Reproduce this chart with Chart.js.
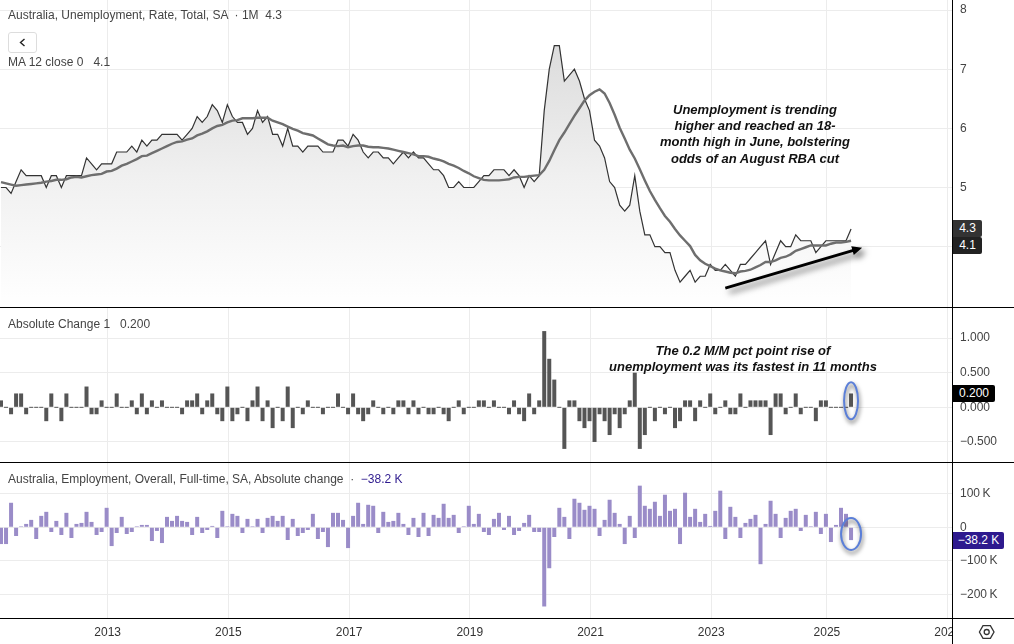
<!DOCTYPE html>
<html>
<head>
<meta charset="utf-8">
<script src="https://cdn.jsdelivr.net/npm/chart.js@4"></script>
<style>
    html, body { margin: 0; padding: 0; background: #fff; overflow: hidden; }
    #wrap { position: relative; width: 1014px; height: 644px; font-family: "Liberation Sans", Arial, sans-serif; color: #444; font-size: 12px; }
    canvas { position: absolute; left: 0; display: block; }
    .txt { position: absolute; white-space: pre; line-height: 14px; }
    .note { position: absolute; text-align: center; font-weight: bold; font-style: italic; color: #111; white-space: pre; font-size: 13px; }
    .badge { position: absolute; left: 953px; color: #fff; text-align: center; line-height: 17px; height: 17px; border-radius: 0 2px 2px 0; }
    .rule { position: absolute; background: #000; }
    #backBtn { position: absolute; left: 8px; top: 32px; width: 27px; height: 19px; border: 1px solid #ddd; border-radius: 3px; }
    #corner { position: absolute; left: 953px; top: 619px; width: 61px; height: 25px; background: #fff; }
</style>
</head>
<body>
<div id="wrap">
    <canvas id="chartRate" width="1014" height="307" style="top:0"></canvas>
    <canvas id="chartChange" width="1014" height="154" style="top:308px"></canvas>
    <canvas id="chartEmp" width="1014" height="181" style="top:463px"></canvas>

    <div id="corner">
        <svg width="61" height="25" style="position:absolute;left:0;top:0">
            <path d="M26.4 13 L30 6.7 L37.4 6.7 L41 13 L37.4 19.3 L30 19.3 Z" fill="none" stroke="#333" stroke-width="1.3"/>
            <circle cx="33.7" cy="13" r="2.5" fill="none" stroke="#333" stroke-width="1.3"/>
        </svg>
    </div>
    <div class="rule" style="left:952px;top:0;width:1px;height:644px"></div>
    <div class="rule" style="left:0;top:307px;width:1014px;height:1px"></div>
    <div class="rule" style="left:0;top:462px;width:1014px;height:1px"></div>
    <div class="rule" style="left:0;top:618px;width:1014px;height:1px"></div>

    <div class="txt" style="left:8px;top:8px">Australia, Unemployment, Rate, Total, SA  · 1M  4.3</div>
    <div id="backBtn">
        <svg width="27" height="19"><path d="M15.5 6 L11.5 9.5 L15.5 13" fill="none" stroke="#222" stroke-width="1.4"/></svg>
    </div>
    <div class="txt" style="left:8px;top:55px">MA 12 close 0   4.1</div>
    <div class="txt" style="left:8px;top:317px">Absolute Change 1   0.200</div>
    <div class="txt" style="left:8px;top:472px">Australia, Employment, Overall, Full-time, SA, Absolute change  ·  <span style="color:#2e1a8e">−38.2 K</span></div>

    <div class="note" style="left:625px;top:102px;width:260px;line-height:16.2px">Unemployment is trending
higher and reached an 18-
month high in June, bolstering
odds of an August RBA cut</div>
    <div class="note" style="left:583px;top:343px;width:320px;line-height:16px">The 0.2 M/M pct point rise of
unemployment was its fastest in 11 months</div>

    <div class="badge" style="top:220px;width:29px;background:#333">4.3</div>
    <div class="badge" style="top:237px;width:29px;background:#222">4.1</div>
    <div class="badge" style="top:385px;width:42px;background:#000">0.200</div>
    <div class="badge" style="top:532px;width:51px;background:#2e1a8e">−38.2 K</div>
</div>

<script>
const months = [
    '2011-04','2011-05','2011-06','2011-07','2011-08','2011-09','2011-10','2011-11','2011-12',
    '2012-01','2012-02','2012-03','2012-04','2012-05','2012-06','2012-07','2012-08','2012-09','2012-10','2012-11','2012-12',
    '2013-01','2013-02','2013-03','2013-04','2013-05','2013-06','2013-07','2013-08','2013-09','2013-10','2013-11','2013-12',
    '2014-01','2014-02','2014-03','2014-04','2014-05','2014-06','2014-07','2014-08','2014-09','2014-10','2014-11','2014-12',
    '2015-01','2015-02','2015-03','2015-04','2015-05','2015-06','2015-07','2015-08','2015-09','2015-10','2015-11','2015-12',
    '2016-01','2016-02','2016-03','2016-04','2016-05','2016-06','2016-07','2016-08','2016-09','2016-10','2016-11','2016-12',
    '2017-01','2017-02','2017-03','2017-04','2017-05','2017-06','2017-07','2017-08','2017-09','2017-10','2017-11','2017-12',
    '2018-01','2018-02','2018-03','2018-04','2018-05','2018-06','2018-07','2018-08','2018-09','2018-10','2018-11','2018-12',
    '2019-01','2019-02','2019-03','2019-04','2019-05','2019-06','2019-07','2019-08','2019-09','2019-10','2019-11','2019-12',
    '2020-01','2020-02','2020-03','2020-04','2020-05','2020-06','2020-07','2020-08','2020-09','2020-10','2020-11','2020-12',
    '2021-01','2021-02','2021-03','2021-04','2021-05','2021-06','2021-07','2021-08','2021-09','2021-10','2021-11','2021-12',
    '2022-01','2022-02','2022-03','2022-04','2022-05','2022-06','2022-07','2022-08','2022-09','2022-10','2022-11','2022-12',
    '2023-01','2023-02','2023-03','2023-04','2023-05','2023-06','2023-07','2023-08','2023-09','2023-10','2023-12',
    '2024-01','2024-02','2024-03','2024-04','2024-05','2024-06','2024-07','2024-08','2024-09','2024-10','2024-11','2024-12',
    '2025-01','2025-02','2025-03','2025-04','2025-05','2025-06'
];

const rate = [
    5.0,5.0,4.9,5.1,5.3,5.2,5.2,5.2,5.2,5.0,5.2,5.2,5.0,5.2,5.2,5.2,5.2,5.5,5.4,5.3,
    5.4,5.4,5.4,5.6,5.6,5.6,5.7,5.6,5.8,5.7,5.8,5.8,5.9,5.9,5.9,5.9,5.8,5.9,6.0,6.2,
    6.1,6.2,6.4,6.3,6.1,6.4,6.2,6.1,6.1,5.9,6.0,6.3,6.1,6.2,5.9,5.9,5.7,6.0,5.7,5.7,
    5.6,5.7,5.7,5.7,5.6,5.6,5.6,5.8,5.8,5.7,5.9,5.8,5.6,5.5,5.6,5.6,5.5,5.5,5.4,5.5,
    5.6,5.5,5.6,5.5,5.5,5.4,5.3,5.3,5.2,5.0,5.0,5.1,5.0,5.0,5.0,5.1,5.2,5.2,5.3,5.3,
    5.3,5.2,5.3,5.2,5.0,5.2,5.1,5.2,6.3,7.0,7.4,7.4,6.8,6.9,7.0,6.8,6.5,6.3,5.8,5.7,
    5.5,5.1,5.0,4.7,4.6,4.7,5.2,4.6,4.2,4.2,4.0,4.0,3.9,3.9,3.6,3.4,3.5,3.6,3.4,3.5,
    3.5,3.7,3.6,3.6,3.7,3.6,3.5,3.7,3.7,3.8,3.9,4.0,4.1,3.7,3.9,4.1,4.0,4.0,4.2,4.1,
    4.1,4.1,3.9,4.0,4.1,4.1,4.1,4.1,4.1,4.3
];

const ma12 = [
    5.09,5.07,5.05,5.03,5.04,5.05,5.06,5.07,5.08,5.10,5.11,5.13,5.13,5.14,5.17,5.18,5.17,5.19,5.21,5.22,
    5.23,5.27,5.28,5.32,5.37,5.40,5.44,5.48,5.53,5.54,5.58,5.62,5.66,5.70,5.74,5.77,5.78,5.81,5.83,5.88,
    5.91,5.95,6.00,6.04,6.06,6.10,6.13,6.14,6.17,6.17,6.17,6.18,6.18,6.18,6.13,6.10,6.07,6.03,5.99,5.96,
    5.92,5.90,5.88,5.83,5.78,5.73,5.71,5.70,5.71,5.68,5.70,5.71,5.71,5.69,5.68,5.68,5.67,5.66,5.64,5.62,
    5.60,5.58,5.56,5.53,5.53,5.52,5.49,5.47,5.44,5.40,5.37,5.33,5.28,5.24,5.19,5.16,5.13,5.12,5.12,5.12,
    5.13,5.14,5.17,5.18,5.18,5.19,5.20,5.21,5.30,5.45,5.63,5.80,5.93,6.07,6.21,6.34,6.47,6.56,6.62,6.66,
    6.59,6.43,6.23,6.01,5.83,5.64,5.49,5.31,5.12,4.94,4.79,4.65,4.52,4.42,4.30,4.19,4.10,4.01,3.86,3.77,
    3.71,3.67,3.63,3.60,3.58,3.56,3.55,3.58,3.59,3.61,3.65,3.69,3.74,3.74,3.77,3.81,3.83,3.87,3.93,3.96,
    3.99,4.02,4.02,4.02,4.02,4.05,4.07,4.07,4.08,4.10
];

const change = [
    0.1,0,-0.1,0.2,0.2,-0.1,0,0,0,-0.2,0.2,0,-0.2,0.2,0,0,0,0.3,-0.1,-0.1,
    0.1,0,0,0.2,0,0,0.1,-0.1,0.2,-0.1,0.1,0,0.1,0,0,0,-0.1,0.1,0.1,0.2,
    -0.1,0.1,0.2,-0.1,-0.2,0.3,-0.2,-0.1,0,-0.2,0.1,0.3,-0.2,0.1,-0.3,0,-0.2,0.3,-0.3,0,
    -0.1,0.1,0,0,-0.1,0,0,0.2,0,-0.1,0.2,-0.1,-0.2,-0.1,0.1,0,-0.1,0,-0.1,0.1,
    0.1,-0.1,0.1,-0.1,0,-0.1,-0.1,0,-0.1,-0.2,0,0.1,-0.1,0,0,0.1,0.1,0,0.1,0,
    0,-0.1,0.1,-0.1,-0.2,0.2,-0.1,0.1,1.1,0.7,0.4,0,-0.6,0.1,0.1,-0.2,-0.3,-0.2,-0.5,-0.1,
    -0.2,-0.4,-0.1,-0.3,-0.1,0.1,0.5,-0.6,-0.4,0,-0.2,0,-0.1,0,-0.3,-0.2,0.1,0.1,-0.2,0.1,
    0,0.2,-0.1,0,0.1,-0.1,-0.1,0.2,0,0.1,0.1,0.1,0.1,-0.4,0.2,0.2,-0.1,0,0.2,-0.1,
    0,0,-0.2,0.1,0.1,0,0,0,0,0.2
];

// 單位：千人
const employment = [
    -50,-50,73,-26,2,10,22,-35,34,46,-14,19,-23,43,-32,10,13,46,16,-23,
    -14,58,-56,-17,31,-20,-14,2,7,7,-41,-11,-47,31,19,34,19,16,-23,31,
    -17,-8,4,-32,49,1,40,34,-17,25,1,25,-17,28,34,19,34,-38,25,-26,
    -17,-8,40,-35,-14,-59,43,43,22,-62,34,73,10,67,64,-17,46,16,19,43,
    10,-23,28,-29,43,-26,37,28,70,28,37,-17,1,64,10,40,-14,-23,25,43,
    -8,34,-23,-11,13,37,-14,-14,-236,-122,-29,58,31,-35,85,73,52,64,55,-26,
    22,82,43,10,-50,34,-32,124,64,55,76,34,97,49,55,-50,103,31,55,16,
    40,4,49,109,-35,61,31,-32,13,25,37,-110,10,79,40,-32,28,49,55,-11,
    37,1,46,-20,40,-44,7,58,40,-38.2
];

const xTickIndex = [21, 45, 69, 93, 117, 141, 164, 188];
const xTickLabels = ['2013', '2015', '2017', '2019', '2021', '2023', '2025', '2027'];
const rateTicks = [8, 7, 6, 5, 4];
const changeTicks = [1, 0.5, 0, -0.5];
const empTicks = [100, 0, -100, -200];

// 標註（資料座標）
const arrowFrom = [144, 3.30];
const arrowTo = [171.2, 3.98];
const changeRing = [169, 0.095];
const empRing = [169, -20];

const GRID = '#ececec';
const AXIS_TEXT = '#444';
const xMin = -0.2;
const xMax = 189.07;

function points(values) {
    return values.map((v, i) => ({ x: i, y: v }));
}

function noPadding(s) {
    s.paddingTop = 0;
    s.paddingBottom = 0;
    s.paddingLeft = 0;
    s.paddingRight = 0;
}

function xAxis(showLabels) {
    return {
        type: 'linear',
        min: xMin,
        max: xMax,
        offset: false,
        border: { display: false },
        grid: { color: GRID, drawTicks: false, offset: false },
        afterBuildTicks: s => { s.ticks = xTickIndex.map(v => ({ value: v + 0.2 })); },
        afterFit: s => { s.height = showLabels ? 26 : 0; noPadding(s); },
        ticks: {
            display: showLabels,
            autoSkip: false,
            maxRotation: 0,
            padding: 7,
            color: '#333',
            font: { family: 'Liberation Sans', size: 12 },
            callback: (v, i) => xTickLabels[i]
        }
    };
}

function yAxis(min, max, tickList, format) {
    return {
        position: 'right',
        min: min,
        max: max,
        border: { display: false },
        grid: { color: GRID, drawTicks: false },
        afterBuildTicks: s => { s.ticks = tickList.map(v => ({ value: v })); },
        afterFit: s => { s.width = 62; noPadding(s); },
        ticks: {
            padding: 8,
            crossAlign: 'near',
            color: AXIS_TEXT,
            font: { family: 'Liberation Sans', size: 12 },
            callback: format
        }
    };
}

function baseOptions(scales) {
    return {
        responsive: false,
        animation: false,
        layout: { padding: 0 },
        plugins: { legend: { display: false }, tooltip: { enabled: false } },
        scales: scales
    };
}

function withShadow(ctx, dx, dy, blur, draw) {
    ctx.save();
    ctx.shadowColor = 'rgba(0,0,0,0.6)';
    ctx.shadowBlur = blur;
    ctx.shadowOffsetX = dx;
    ctx.shadowOffsetY = dy;
    draw();
    ctx.restore();
}

function ringPlugin(ring, rx, ry) {
    return {
        id: 'ring',
        afterDatasetsDraw(chart) {
            const ctx = chart.ctx;
            const cx = chart.scales.x.getPixelForValue(ring[0]);
            const cy = chart.scales.y.getPixelForValue(ring[1]);
            withShadow(ctx, 1, 3, 4, () => {
                ctx.strokeStyle = '#5b7fd8';
                ctx.lineWidth = 2;
                ctx.beginPath();
                ctx.ellipse(cx, cy, rx, ry, 0, 0, Math.PI * 2);
                ctx.stroke();
            });
        }
    };
}

const arrowPlugin = {
    id: 'trendArrow',
    afterDatasetsDraw(chart) {
        const ctx = chart.ctx;
        const x0 = chart.scales.x.getPixelForValue(arrowFrom[0]);
        const y0 = chart.scales.y.getPixelForValue(arrowFrom[1]);
        const x1 = chart.scales.x.getPixelForValue(arrowTo[0]);
        const y1 = chart.scales.y.getPixelForValue(arrowTo[1]);
        const a = Math.atan2(y1 - y0, x1 - x0);
        withShadow(ctx, 4, 4, 6, () => {
            ctx.fillStyle = '#000';
            ctx.beginPath();
            ctx.moveTo(x1, y1);
            ctx.lineTo(x1 - 10 * Math.cos(a) + 4.5 * Math.sin(a), y1 - 10 * Math.sin(a) - 4.5 * Math.cos(a));
            ctx.lineTo(x1 - 10 * Math.cos(a) + 1.4 * Math.sin(a), y1 - 10 * Math.sin(a) - 1.4 * Math.cos(a));
            ctx.lineTo(x0 + 1.4 * Math.sin(a), y0 - 1.4 * Math.cos(a));
            ctx.lineTo(x0 - 1.4 * Math.sin(a), y0 + 1.4 * Math.cos(a));
            ctx.lineTo(x1 - 10 * Math.cos(a) - 1.4 * Math.sin(a), y1 - 10 * Math.sin(a) + 1.4 * Math.cos(a));
            ctx.lineTo(x1 - 10 * Math.cos(a) - 4.5 * Math.sin(a), y1 - 10 * Math.sin(a) + 4.5 * Math.cos(a));
            ctx.closePath();
            ctx.fill();
        });
    }
};

function areaFill(context) {
    const c = context.chart;
    if (!c.chartArea) return 'transparent';
    const y = c.scales.y;
    const g = c.ctx.createLinearGradient(0, y.getPixelForValue(7.4), 0, c.chartArea.bottom);
    g.addColorStop(0, '#dcdcdc');
    g.addColorStop(0.5, '#f0f0f0');
    g.addColorStop(1, '#ffffff');
    return g;
}

function signed(v, digits) {
    const s = Math.abs(v).toFixed(digits);
    return v < 0 ? '−' + s : s;
}

// 失業率與移動平均
new Chart(document.getElementById('chartRate'), {
    type: 'line',
    data: {
        labels: months,
        datasets: [
            {
                label: 'Rate',
                data: points(rate),
                order: 2,
                borderColor: '#333',
                borderWidth: 1.2,
                backgroundColor: areaFill,
                fill: 'start',
                pointRadius: 0,
                tension: 0
            },
            {
                label: 'MA 12',
                data: points(ma12),
                order: 1,
                borderColor: '#6e6e6e',
                borderWidth: 2.4,
                fill: false,
                pointRadius: 0,
                tension: 0
            }
        ]
    },
    options: baseOptions({
        x: xAxis(false),
        y: yAxis(2.98, 8.17, rateTicks, v => (v === 4 ? '' : String(v)))
    }),
    plugins: [arrowPlugin]
});

// 失業率月變動
new Chart(document.getElementById('chartChange'), {
    type: 'bar',
    data: {
        labels: months,
        datasets: [{
            label: 'Absolute Change',
            data: points(change),
            backgroundColor: '#555',
            barThickness: 4,
            inflateAmount: 0,
            minBarLength: 1
        }]
    },
    options: baseOptions({
        x: xAxis(false),
        y: yAxis(-0.789, 1.433, changeTicks, v => signed(v, 3))
    }),
    plugins: [ringPlugin(changeRing, 7, 18.5)]
});

// 全職就業月變動
new Chart(document.getElementById('chartEmp'), {
    type: 'bar',
    data: {
        labels: months,
        datasets: [{
            label: 'Employment',
            data: points(employment),
            backgroundColor: '#9a8cc8',
            barThickness: 4,
            inflateAmount: 0,
            minBarLength: 1
        }]
    },
    options: baseOptions({
        x: xAxis(true),
        y: yAxis(-270.3, 191.5, empTicks, v => (v === 0 ? '0' : signed(v, 0) + '\u2009K'))
    }),
    plugins: [ringPlugin(empRing, 10, 16)]
});
</script>
</body>
</html>
